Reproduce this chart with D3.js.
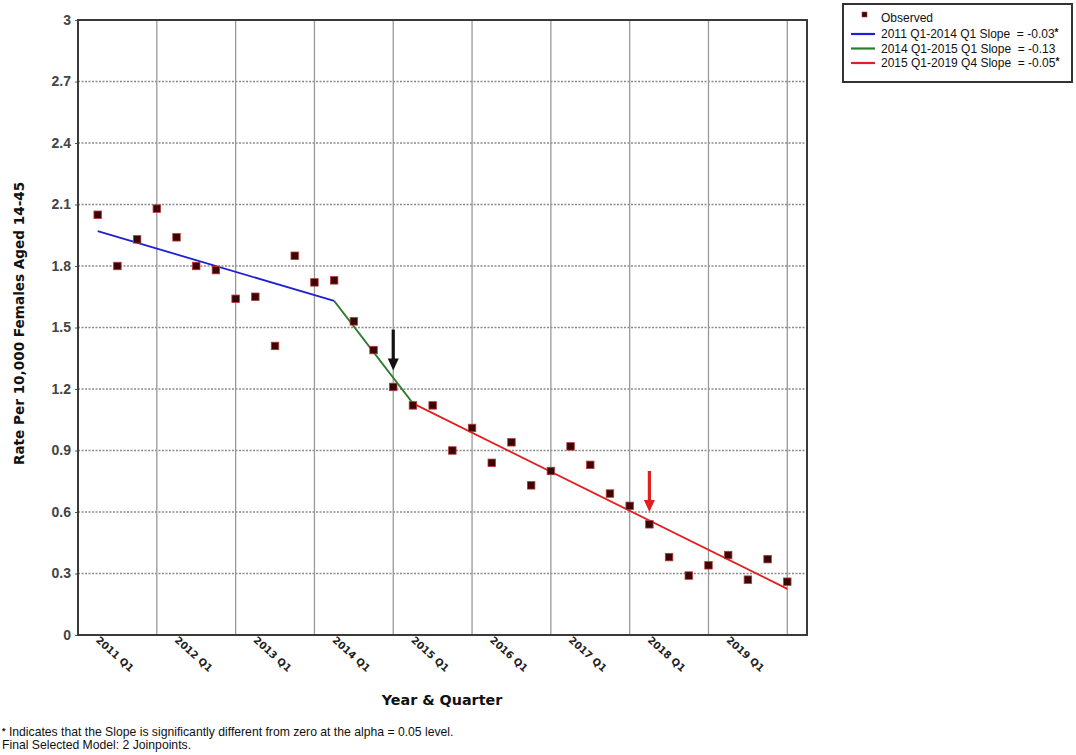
<!DOCTYPE html>
<html>
<head>
<meta charset="utf-8">
<script src="https://cdn.jsdelivr.net/npm/d3@7"></script>
<style>
  html, body { margin: 0; padding: 0; background: #fff; }
  svg { display: block; }
</style>
</head>
<body>
<script>
// ---- data ----
const quarters = [];
for (let yr = 2011; yr <= 2019; yr++) for (let q = 1; q <= 4; q++) quarters.push(yr + " Q" + q);
const observed = [2.05, 1.80, 1.93, 2.08, 1.94, 1.80, 1.78, 1.64, 1.65, 1.41, 1.85, 1.72,
                  1.73, 1.53, 1.39, 1.21, 1.12, 1.12, 0.90, 1.01, 0.84, 0.94, 0.73, 0.80,
                  0.92, 0.83, 0.69, 0.63, 0.54, 0.38, 0.29, 0.34, 0.39, 0.27, 0.37, 0.26];
const segBlue  = [[0, 1.97], [12, 1.63]];
const segGreen = [[12, 1.63], [16, 1.13]];
const segRed   = [[16, 1.13], [35, 0.225]];
const segments = [
  {pts: segBlue,  color: "#1f1fd6", label: "2011 Q1-2014 Q1 Slope  = -0.03", star: true},
  {pts: segGreen, color: "#2e7d2e", label: "2014 Q1-2015 Q1 Slope  = -0.13", star: false},
  {pts: segRed,   color: "#e02020", label: "2015 Q1-2019 Q4 Slope  = -0.05", star: true}
];
const yTicks = [0, 0.3, 0.6, 0.9, 1.2, 1.5, 1.8, 2.1, 2.4, 2.7, 3];
const yTickLabels = ["0", "0.3", "0.6", "0.9", "1.2", "1.5", "1.8", "2.1", "2.4", "2.7", "3"];
const xTickLabels = ["2011 Q1", "2012 Q1", "2013 Q1", "2014 Q1", "2015 Q1", "2016 Q1", "2017 Q1", "2018 Q1", "2019 Q1"];
const arrows = [ {idx: 15, from: 1.49, to: 1.29, color: "#111"}, {idx: 28, from: 0.80, to: 0.60, color: "#e02020"} ];

// ---- chart ----
const W = 1076, H = 755;
const svg = d3.select("body").append("svg").attr("width", W).attr("height", H);
svg.append("rect").attr("width", W).attr("height", H).attr("fill", "#fff");

const x = d3.scaleLinear().domain([-1, 36]).range([78, 807]);
const y = d3.scaleLinear().domain([0, 3]).range([635, 20]);

const g = svg.append("g");

// horizontal gridlines (dotted)
g.selectAll("line.hg").data(yTicks.slice(1, -1)).enter().append("line")
  .attr("x1", x(-1)).attr("x2", x(36)).attr("y1", d => y(d)).attr("y2", d => y(d))
  .attr("stroke", "#8a8a8a").attr("stroke-width", 1.3).attr("stroke-dasharray", "2,1.5");

// vertical gridlines at each Q4
const vIdx = quarters.map((q, i) => i).filter(i => i % 4 === 3);
g.selectAll("line.vg").data(vIdx).enter().append("line")
  .attr("x1", d => x(d)).attr("x2", d => x(d)).attr("y1", y(3)).attr("y2", y(0))
  .attr("stroke", "#999").attr("stroke-width", 1.3);

// y axis
const yAxis = d3.axisLeft(y).tickValues(yTicks).tickFormat((d, i) => yTickLabels[i]).tickSize(3);
const ya = svg.append("g").attr("transform", `translate(${x(-1)},0)`).call(yAxis);
ya.select(".domain").remove();
ya.selectAll("line").attr("stroke", "#555");
ya.selectAll("text").attr("font-family", "Liberation Sans, Arial, sans-serif")
  .attr("font-size", 14).attr("font-weight", "bold").attr("fill", "#444").attr("dx", -1);

// x axis labels (rotated)
const xIdx = quarters.map((q, i) => i).filter(i => i % 4 === 0);
const xAxis = d3.axisBottom(x).tickValues(xIdx).tickFormat((d, i) => xTickLabels[i]).tickSize(0);
const xa = svg.append("g").attr("transform", `translate(0,${y(0)})`).call(xAxis);
xa.select(".domain").remove();
xa.selectAll("text")
  .attr("font-family", "DejaVu Sans, Verdana, sans-serif").attr("font-size", 10)
  .attr("font-weight", "bold").attr("fill", "#222")
  .attr("text-anchor", "start").attr("dy", 0).attr("y", 0)
  .attr("transform", "translate(-3,6) rotate(42)");

// plot frame
svg.append("rect").attr("x", x(-1)).attr("y", y(3)).attr("width", x(36) - x(-1)).attr("height", y(0) - y(3))
  .attr("fill", "none").attr("stroke", "#3a3a3a").attr("stroke-width", 2);

// fitted segments
const line = d3.line().x(d => x(d[0])).y(d => y(d[1]));
segments.forEach(s => {
  svg.append("path").datum(s.pts).attr("d", line).attr("fill", "none")
    .attr("stroke", s.color).attr("stroke-width", 1.8);
});

// observed points
svg.selectAll("rect.pt").data(observed).enter().append("rect")
  .attr("x", (d, i) => x(i) - 3.75).attr("y", d => y(d) - 3.75)
  .attr("width", 7.5).attr("height", 7.5)
  .attr("fill", "#3a0505").attr("stroke", "#b83a3a").attr("stroke-width", 0.8);

// arrows
arrows.forEach(a => {
  const ax = x(a.idx), y0 = y(a.from), y1 = y(a.to);
  svg.append("line").attr("x1", ax).attr("x2", ax).attr("y1", y0).attr("y2", y1 - 10)
    .attr("stroke", a.color).attr("stroke-width", 3.2);
  svg.append("path")
    .attr("d", `M${ax - 5.5},${y1 - 12} L${ax + 5.5},${y1 - 12} L${ax},${y1} Z`)
    .attr("fill", a.color);
});

// axis titles
svg.append("text").attr("transform", `translate(24,${y(1.52)}) rotate(-90)`)
  .attr("text-anchor", "middle").attr("font-family", "DejaVu Sans, Verdana, sans-serif")
  .attr("font-size", 13.6).attr("font-weight", "bold").attr("fill", "#111")
  .text("Rate Per 10,000 Females Aged 14-45");
svg.append("text").attr("x", 442).attr("y", 705)
  .attr("text-anchor", "middle").attr("font-family", "DejaVu Sans, Verdana, sans-serif")
  .attr("font-size", 14.3).attr("font-weight", "bold").attr("fill", "#111")
  .text("Year & Quarter");

// legend
const lg = svg.append("g");
lg.append("rect").attr("x", 843).attr("y", 4).attr("width", 229).attr("height", 78)
  .attr("fill", "#fff").attr("stroke", "#333").attr("stroke-width", 2);
const lf = "Liberation Sans, Arial, sans-serif";
lg.append("rect").attr("x", 862).attr("y", 12).attr("width", 5).attr("height", 5)
  .attr("fill", "#3a0505").attr("stroke", "#b83a3a").attr("stroke-width", 0.6);
lg.append("text").attr("x", 881).attr("y", 22).attr("font-family", lf).attr("font-size", 12)
  .attr("fill", "#111").text("Observed");
segments.forEach((s, i) => {
  const ly = 34 + i * 14.5;
  lg.append("line").attr("x1", 851).attr("x2", 875).attr("y1", ly).attr("y2", ly)
    .attr("stroke", s.color).attr("stroke-width", 2.2);
  const t = lg.append("text").attr("x", 881).attr("y", ly + 4).attr("font-family", lf)
    .attr("font-size", 12).attr("fill", "#111").attr("xml:space", "preserve").text(s.label);
  if (s.star) t.append("tspan").attr("dy", -2).attr("font-size", 10).attr("font-weight", "bold").text("*");
});

// footnotes
svg.append("text").attr("x", 2).attr("y", 736).attr("font-family", lf).attr("font-size", 12.2)
  .attr("fill", "#111")
  .html('<tspan font-size="9" font-weight="bold" dy="-2">*</tspan><tspan dy="2"> Indicates that the Slope is significantly different from zero at the alpha = 0.05 level.</tspan>');
svg.append("text").attr("x", 2).attr("y", 749).attr("font-family", lf).attr("font-size", 12.2)
  .attr("fill", "#111").text("Final Selected Model: 2 Joinpoints.");
</script>
</body>
</html>
